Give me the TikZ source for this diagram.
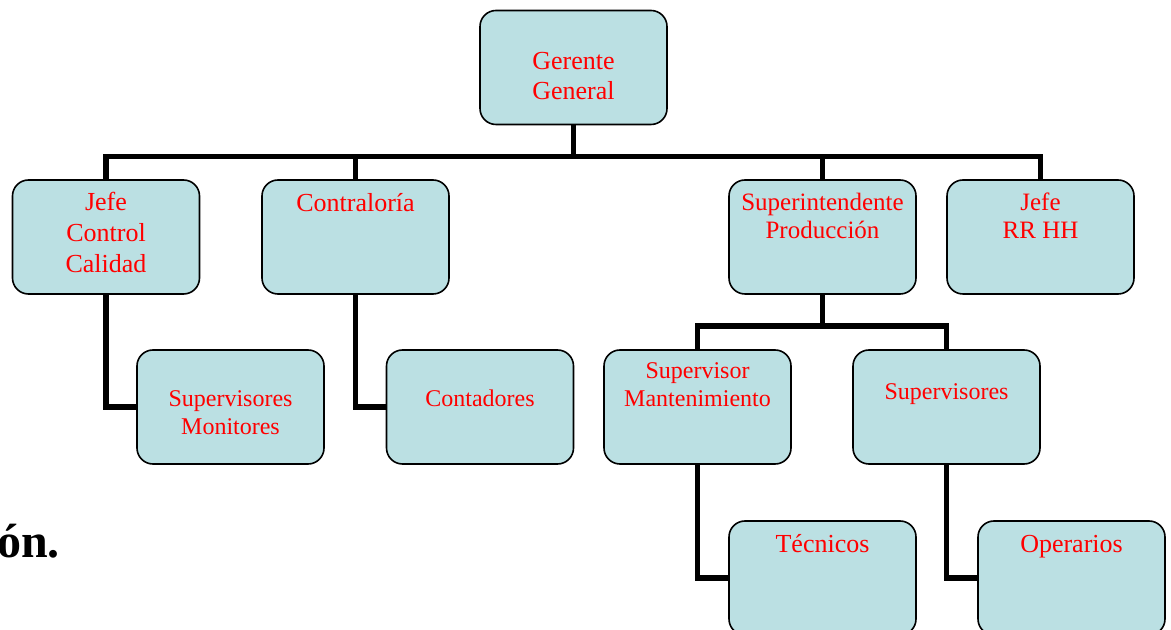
\documentclass[tikz,border=0pt]{standalone}
\usepackage{fontspec}
\setmainfont{Liberation Serif}
\definecolor{boxfill}{RGB}{187,224,227}
\definecolor{txtred}{RGB}{255,0,0}
\begin{document}
\begin{tikzpicture}[x=0.75pt,y=-0.75pt,
  orgbox/.style={draw=black,line width=1.2pt,fill=boxfill,rounded corners=12pt,
    rectangle,minimum width=140.25pt,minimum height=85.5pt,inner sep=0pt},
  conn/.style={draw=black,line width=4pt,line join=miter,line cap=butt},
  txt/.style={anchor=base,inner sep=0pt,text=txtred}]
\useasboundingbox (0,0) rectangle (1171,630);
\clip (0,0) rectangle (1171,630);
\fill[white] (0,0) rectangle (1171,630);

% boxes
\node[orgbox] (gg)    at (573.5,67.5) {};
\node[orgbox] (jcc)   at (106,237) {};
\node[orgbox] (con)   at (355.5,237) {};
\node[orgbox] (sup)   at (822.5,237) {};
\node[orgbox] (rrhh)  at (1040.5,237) {};
\node[orgbox] (sm)    at (230.5,407) {};
\node[orgbox] (cont)  at (480,407) {};
\node[orgbox] (smant) at (697.5,407) {};
\node[orgbox] (sups)  at (946.5,407) {};
\node[orgbox] (tec)   at (822.5,578) {};
\node[orgbox] (ope)   at (1071.5,578) {};

% bus coordinates
\coordinate (bus) at (0,156.5);
\coordinate (bus2) at (0,326);

% connectors
\draw[conn] (gg.south) -- (gg.south |- bus);
\draw[conn] (jcc.north) |- (bus -| rrhh.north) -- (rrhh.north);
\draw[conn] (con.north) -- (con.north |- bus);
\draw[conn] (sup.north) -- (sup.north |- bus);
\draw[conn] (sup.south) -- (sup.south |- bus2);
\draw[conn] (smant.north) |- (bus2 -| sups.north) -- (sups.north);
\draw[conn] (jcc.south) |- (sm.west);
\draw[conn] (con.south) |- (cont.west);
\draw[conn] (smant.south) |- (tec.west);
\draw[conn] (sups.south) |- (ope.west);

% texts
\node[txt] at (573.5,70) {\fontsize{19.5}{22.5}\selectfont\begin{tabular}[t]{@{}c@{}}Gerente\\General\end{tabular}};
\node[txt] at (106,211) {\fontsize{19.5}{23.25}\selectfont\begin{tabular}[t]{@{}c@{}}Jefe\\Control\\Calidad\end{tabular}};
\node[txt] at (355.5,212) {\fontsize{19.5}{23.25}\selectfont Contraloría};
\node[txt] at (822.5,211) {\fontsize{18.75}{21}\selectfont\begin{tabular}[t]{@{}c@{}}Superintendente\\Producción\end{tabular}};
\node[txt] at (1040.5,211) {\fontsize{18.75}{21}\selectfont\begin{tabular}[t]{@{}c@{}}Jefe\\RR HH\end{tabular}};
\node[txt] at (230.5,407) {\fontsize{18}{20.6}\selectfont\begin{tabular}[t]{@{}c@{}}Supervisores\\Monitores\end{tabular}};
\node[txt] at (480,407) {\fontsize{18}{21}\selectfont Contadores};
\node[txt] at (697.5,379) {\fontsize{18}{21}\selectfont\begin{tabular}[t]{@{}c@{}}Supervisor\\Mantenimiento\end{tabular}};
\node[txt] at (946.5,400) {\fontsize{18}{21}\selectfont Supervisores};
\node[txt] at (822.5,552) {\fontsize{19.5}{22.5}\selectfont Técnicos};
\node[txt] at (1071.5,552) {\fontsize{19.5}{22.5}\selectfont Operarios};

\node[anchor=base west,inner sep=0pt,font=\bfseries\fontsize{36}{40}\selectfont] (frag) at (-3,557) {ón.};
\end{tikzpicture}
\end{document}
